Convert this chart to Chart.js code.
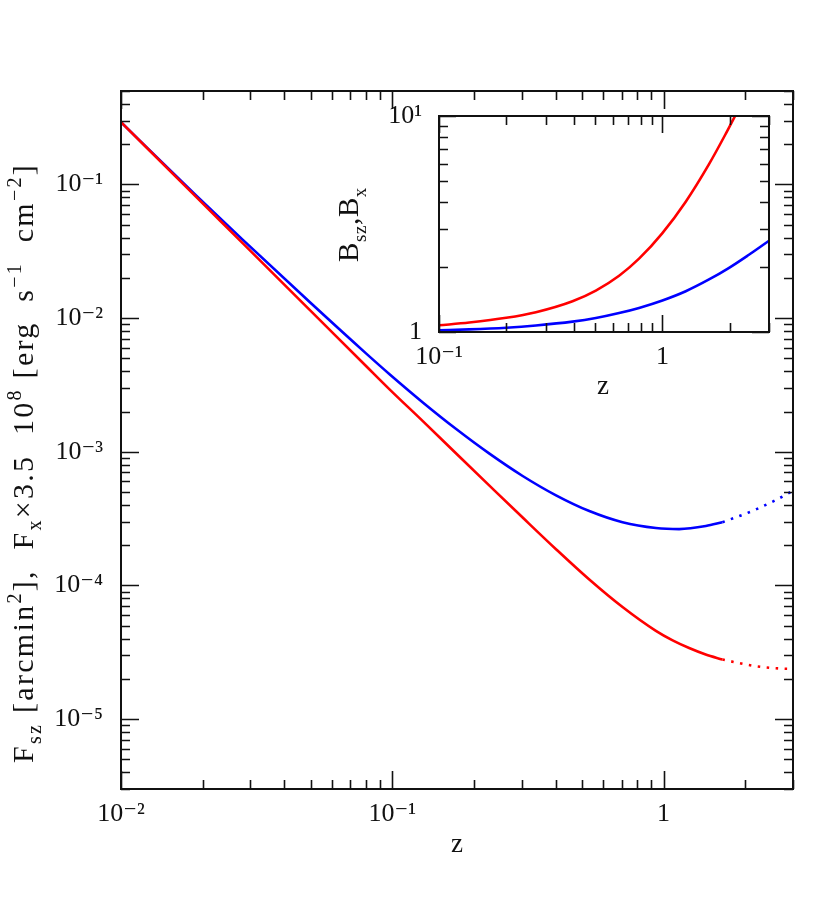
<!DOCTYPE html>
<html><head><meta charset="utf-8">
<script src="https://cdn.jsdelivr.net/npm/chart.js@4/dist/chart.umd.min.js"></script>
<style>
html,body{margin:0;padding:0;background:#fff;}
#wrap{position:relative;width:822px;height:902px;overflow:hidden;}
#main{position:absolute;left:0;top:0;}
#inset{position:absolute;left:320px;top:100px;}
</style></head><body>
<div id="wrap">
<canvas id="main" width="822" height="902"></canvas>
<canvas id="inset" width="470" height="310"></canvas>
</div>
<script>
// ---------- main panel data ----------
const zSZ   = [0.01, 0.019, 0.0282, 0.0496, 0.0802, 0.0977, 0.1296, 0.1720, 0.2281, 0.3024, 0.4014, 0.5324, 0.7058, 0.9370, 1.08, 1.2424, 1.43, 1.6476];
const fSZ   = [0.2924, 0.0800, 0.03606, 0.01153, 0.004365, 0.002931, 0.001694, 9.70e-4, 5.58e-4, 3.22e-4, 1.866e-4, 1.107e-4, 6.89e-5, 4.57e-5, 3.88e-5, 3.40e-5, 3.04e-5, 2.79e-5];
const zX    = [0.01, 0.019, 0.0282, 0.0496, 0.0802, 0.0977, 0.1296, 0.1720, 0.2281, 0.3024, 0.4014, 0.5324, 0.7058, 0.9370, 1.1415, 1.4313, 1.6476];
const fX    = [0.2924, 0.08204, 0.03828, 0.01318, 0.005420, 0.003802, 0.002339, 0.001479, 9.68e-4, 6.59e-4, 4.72e-4, 3.60e-4, 2.97e-4, 2.69e-4, 2.64e-4, 2.78e-4, 2.97e-4];
const zSZExt = [1.6476, 2.186, 2.941, 3.0];
const fSZExt = [2.79e-5, 2.49e-5, 2.38e-5, 2.38e-5];
const zXExt  = [1.6476, 2.186, 2.98, 3.0];
const fXExt  = [2.97e-4, 3.70e-4, 5.09e-4, 5.14e-4];
const mainXTicks = [0.01, 0.1, 1];
const mainXTickLabels = ['10⁻²', '10⁻¹', '1'];
const mainYTicks = [1e-5, 1e-4, 1e-3, 1e-2, 1e-1];
const mainYTickLabels = ['10⁻⁵', '10⁻⁴', '10⁻³', '10⁻²', '10⁻¹'];
const mainXTitle = [['z','n']];
const mainYTitle = [['F','n'],['sz','sub'],[' [arcmin','n'],['2','sup'],['],  F','n'],['x','sub'],['×3.5  10','n'],['8','sup'],[' [erg  s','n'],['−1','sup'],['  cm','n'],['−2','sup'],[']','n']];

// ---------- inset data ----------
const zInsetSZ = [0.1, 0.1366, 0.2, 0.2715, 0.396, 0.5035, 0.640, 0.786, 1.0, 1.272, 1.617, 1.920, 2.149, 2.3];
const bSZ      = [1.074, 1.106, 1.163, 1.235, 1.388, 1.555, 1.822, 2.185, 2.871, 4.012, 5.987, 8.264, 10.33, 11.85];
const zInsetX  = [0.1, 0.1366, 0.2, 0.2715, 0.396, 0.5035, 0.640, 0.786, 1.0, 1.272, 1.617, 1.98, 2.43, 2.968, 3.0];
const bX       = [1.018, 1.028, 1.047, 1.072, 1.117, 1.161, 1.224, 1.293, 1.400, 1.545, 1.751, 1.977, 2.273, 2.624, 2.644];
const insetXTicks = [0.1, 1];
const insetXTickLabels = ['10⁻¹', '1'];
const insetYTicks = [1, 10];
const insetYTickLabels = ['1', '10¹'];
const insetXTitle = [['z','n']];
const insetYTitle = [['B','n'],['sz','sub'],[',B','n'],['x','sub']];

const FAMILY = "'Liberation Serif', 'DejaVu Serif', serif";
const INK = '#111';
const RED = '#ff0000', BLUE = '#0000ff';

function pts(xs, ys) { return xs.map((x, i) => ({x: x, y: ys[i]})); }

function logValues(min, max) {
  const out = [];
  for (let k = Math.floor(Math.log10(min)) - 1; k <= Math.ceil(Math.log10(max)); k++) {
    for (let a = 1; a < 10; a++) {
      const v = a * Math.pow(10, k);
      if (v >= min * 0.9999 && v <= max * 1.0001) out.push({v: v, major: a === 1});
    }
  }
  return out;
}

function drawRich(ctx, segs, size, cx, cy, rot, fit) {
  ctx.save();
  ctx.translate(cx, cy);
  ctx.rotate(rot);
  const small = Math.round(size * 0.66);
  const fontFor = k => (k === 'n' ? size : small) + 'px ' + FAMILY;
  let w = 0, n = 0;
  for (const [t, k] of segs) { ctx.font = fontFor(k); w += ctx.measureText(t).width; n += t.length; }
  let sp = 0;
  if (fit && 'letterSpacing' in ctx && n > 0) {
    sp = Math.max(0, (fit - w) / n);
    w += sp * n;
  }
  let x = -w / 2;
  ctx.textBaseline = 'alphabetic';
  ctx.textAlign = 'left';
  ctx.fillStyle = INK;
  for (const [t, k] of segs) {
    ctx.font = fontFor(k);
    if (sp) ctx.letterSpacing = sp.toFixed(2) + 'px';
    const dy = k === 'sup' ? -size * 0.40 : (k === 'sub' ? size * 0.28 : 0);
    ctx.fillText(t, x, dy);
    x += ctx.measureText(t).width;
  }
  ctx.restore();
}

const frameTicks = {
  id: 'frameTicks',
  afterDraw(chart, args, opts) {
    const ctx = chart.ctx;
    const {left, right, top, bottom} = chart.chartArea;
    const xs = chart.scales.x, ys = chart.scales.y;
    ctx.save();
    ctx.strokeStyle = INK;
    ctx.lineWidth = opts.tickWidth;
    ctx.beginPath();
    for (const t of logValues(xs.min, xs.max)) {
      const p = Math.round(xs.getPixelForValue(t.v)) + 0.5;
      const L = t.major ? opts.major : opts.minor;
      ctx.moveTo(p, bottom); ctx.lineTo(p, bottom - L);
      ctx.moveTo(p, top); ctx.lineTo(p, top + L);
    }
    for (const t of logValues(ys.min, ys.max)) {
      const p = Math.round(ys.getPixelForValue(t.v)) + 0.5;
      const L = t.major ? opts.major : opts.minor;
      ctx.moveTo(left, p); ctx.lineTo(left + L, p);
      ctx.moveTo(right, p); ctx.lineTo(right - L, p);
    }
    ctx.stroke();
    ctx.lineWidth = opts.frameWidth;
    ctx.strokeRect(left, top, right - left, bottom - top);
    ctx.restore();
    for (const t of (opts.titles || [])) drawRich(ctx, t.segs, t.size, t.x, t.y, t.rot, t.fit);
  }
};

function scaleOpts(min, max, tickVals, tickLabels, pad, fitKey, fitVal) {
  return {
    type: 'logarithmic',
    min: min, max: max,
    grid: {display: false, drawTicks: false},
    border: {display: false},
    afterBuildTicks: s => { s.ticks = tickVals.map(v => ({value: v, major: true})); },
    afterFit: s => {
      s[fitKey] = fitVal;
      s.paddingTop = 0; s.paddingBottom = 0; s.paddingLeft = 0; s.paddingRight = 0;
    },
    ticks: {
      autoSkip: false, maxRotation: 0, minRotation: 0,
      padding: pad,
      color: INK,
      font: {family: FAMILY, size: 26},
      callback: (v, i) => tickLabels[i]
    }
  };
}

function lineDs(data, color, dashed) {
  return {
    data: data, borderColor: color, backgroundColor: color,
    borderWidth: 2.6, pointRadius: 0, fill: false,
    cubicInterpolationMode: 'monotone',
    borderDash: dashed ? [2.5, 6.5] : [],
  };
}

new Chart(document.getElementById('main'), {
  type: 'line',
  data: {datasets: [
    lineDs(pts(zSZ, fSZ), RED, false),
    lineDs(pts(zX, fX), BLUE, false),
    lineDs(pts(zSZExt, fSZExt), RED, true),
    lineDs(pts(zXExt, fXExt), BLUE, true)
  ]},
  options: {
    responsive: false, animation: false, devicePixelRatio: 1,
    layout: {padding: {left: 0, right: 29, top: 91, bottom: 0}},
    plugins: {
      legend: {display: false}, tooltip: {enabled: false},
      frameTicks: {tickWidth: 1.6, frameWidth: 2, major: 18, minor: 9,
        titles: [
          {segs: mainXTitle, size: 27, x: 457, y: 852, rot: 0},
          {segs: mainYTitle, size: 30, x: 33, y: 463, rot: -Math.PI / 2, fit: 600}
        ]}
    },
    scales: {
      x: scaleOpts(0.01, 3, mainXTicks, mainXTickLabels, 10, 'height', 113),
      y: scaleOpts(3e-6, 0.5, mainYTicks, mainYTickLabels, 18, 'width', 121)
    }
  },
  plugins: [frameTicks]
});

new Chart(document.getElementById('inset'), {
  type: 'line',
  data: {datasets: [
    lineDs(pts(zInsetSZ, bSZ), RED, false),
    lineDs(pts(zInsetX, bX), BLUE, false)
  ]},
  options: {
    responsive: false, animation: false, devicePixelRatio: 1,
    layout: {padding: {left: 0, right: 21, top: 16, bottom: 0}},
    plugins: {
      legend: {display: false}, tooltip: {enabled: false},
      frameTicks: {tickWidth: 1.6, frameWidth: 2, major: 17, minor: 9,
        titles: [
          {segs: insetXTitle, size: 27, x: 283, y: 294, rot: 0},
          {segs: insetYTitle, size: 29, x: 38, y: 124.5, rot: -Math.PI / 2, fit: 75}
        ]}
    },
    scales: {
      x: scaleOpts(0.1, 3, insetXTicks, insetXTickLabels, 10, 'height', 78),
      y: scaleOpts(1, 10, insetYTicks, insetYTickLabels, 17, 'width', 119)
    }
  },
  plugins: [frameTicks]
});
</script>
</body></html>
